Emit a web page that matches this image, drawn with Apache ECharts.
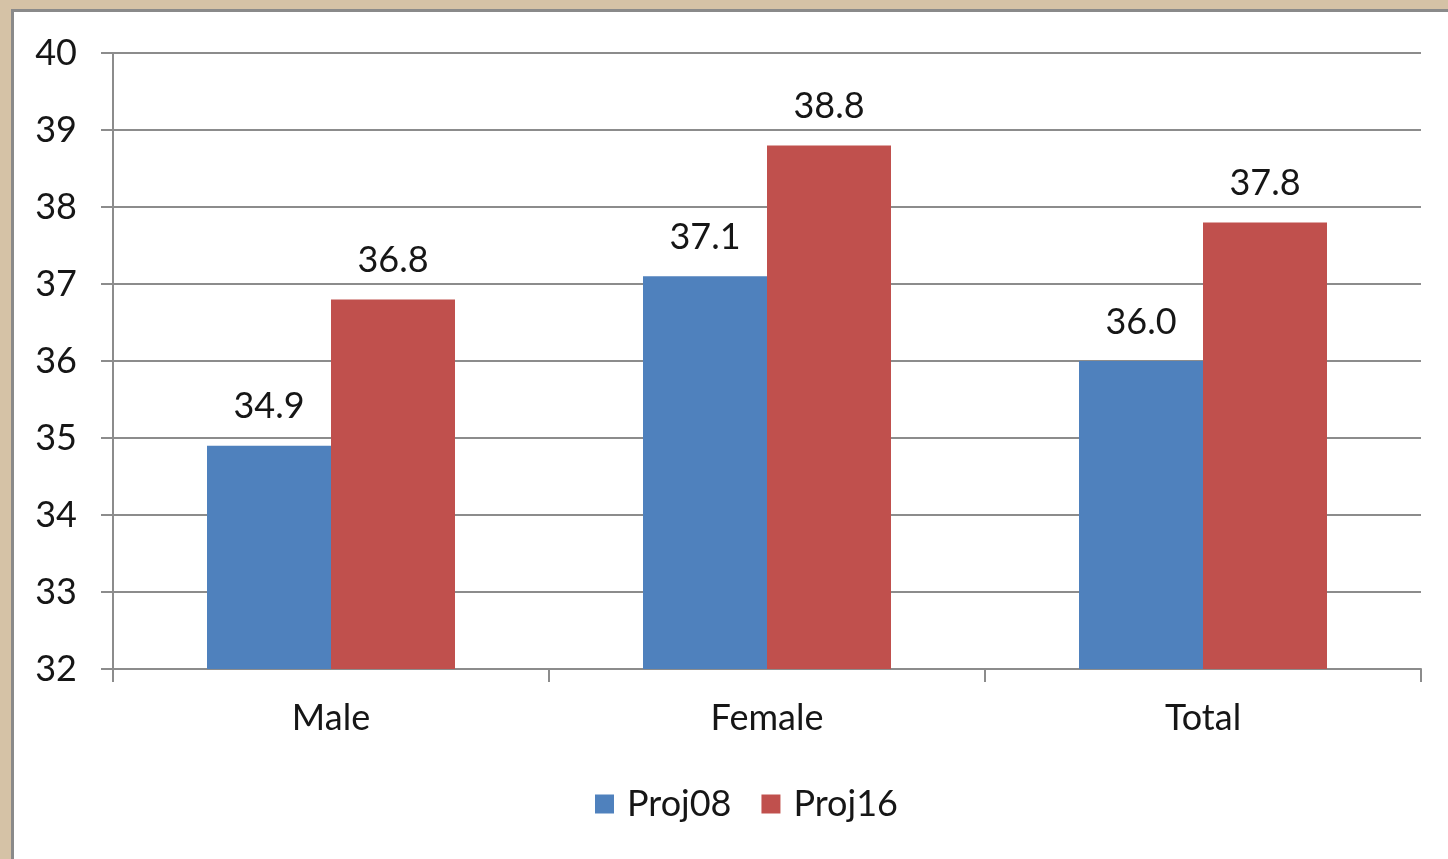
<!DOCTYPE html>
<html>
<head>
<meta charset="utf-8">
<script src="https://cdn.jsdelivr.net/npm/echarts@6/dist/echarts.min.js"></script>
<style>
  html, body { margin: 0; padding: 0; background: #d5c2a6; }
  .frame {
    position: absolute; left: 11px; top: 9px; right: 0; bottom: 0;
    border-left: 3px solid #8a8a8a; border-top: 3px solid #8a8a8a;
    background: #fff;
  }
  #chart { position: absolute; left: -14px; top: -12px; width: 1448px; height: 859px; }
</style>
</head>
<body>
<div class="frame"><div id="chart"></div></div>
<script>
const categories = ["Male", "Female", "Total"];
const proj08 = [34.9, 37.1, 36.0];
const proj16 = [36.8, 38.8, 37.8];
const yTicks = { min: 32, max: 40, step: 1 };

const font = "Lato, 'Open Sans', sans-serif";
const axisGray = "#8c8c8c";
const txt = "#161616";

const barLabel = {
  show: true,
  position: "top",
  distance: 21,
  fontSize: 36,
  fontFamily: font,
  color: txt,
  formatter: (p) => p.value.toFixed(1),
};

const chart = echarts.init(document.getElementById("chart"));
chart.setOption({
  animation: false,
  textStyle: { fontFamily: font },
  legend: {
    top: 781,
    left: 590,
    itemWidth: 19,
    itemHeight: 19,
    itemGap: 30,
    icon: "rect",
    textStyle: { fontSize: 36, color: txt, fontFamily: font, padding: [0, 0, 0, 8] },
    data: ["Proj08", "Proj16"],
  },
  grid: { left: 113, right: 27, top: 53, bottom: 190 },
  xAxis: {
    type: "category",
    data: categories,
    axisLine: { lineStyle: { color: axisGray, width: 2 } },
    axisTick: { show: true, length: 13, lineStyle: { color: axisGray, width: 2 } },
    axisLabel: { fontSize: 36, color: txt, margin: 31, fontFamily: font },
  },
  yAxis: {
    type: "value",
    min: yTicks.min,
    max: yTicks.max,
    interval: yTicks.step,
    axisLine: { show: true, lineStyle: { color: axisGray, width: 2 } },
    axisTick: { show: true, length: 12, lineStyle: { color: axisGray, width: 2 } },
    axisLabel: { fontSize: 36, color: txt, margin: 36, fontFamily: font },
    splitLine: { lineStyle: { color: axisGray, width: 2 } },
  },
  series: [
    {
      name: "Proj08",
      type: "bar",
      data: proj08,
      barWidth: 124,
      barGap: "0%",
      itemStyle: { color: "#4f81bd" },
      label: barLabel,
    },
    {
      name: "Proj16",
      type: "bar",
      data: proj16,
      barWidth: 124,
      barGap: "0%",
      itemStyle: { color: "#c0504d" },
      label: barLabel,
    },
  ],
});
</script>
</body>
</html>
